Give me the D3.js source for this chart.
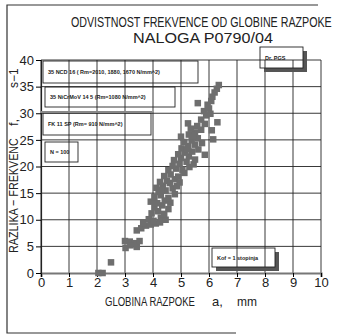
<!DOCTYPE html>
<html>
<head>
<meta charset="utf-8">
<script src="https://cdn.jsdelivr.net/npm/d3@7"></script>
<style>
  body { margin: 0; background: #fff; }
  svg text { font-family: "Liberation Sans", "DejaVu Sans", sans-serif; fill: #222; }
  .box-txt { font-weight: bold; font-size: 5.5px; }
</style>
</head>
<body>
<div id="chart"></div>
<script>
// chart text
var titleLines = ["ODVISTNOST FREKVENCE OD GLOBINE RAZPOKE", "NALOGA P0790/04"];
var xTicks = [0, 1, 2, 3, 4, 5, 6, 7, 8, 9, 10];
var yTicks = [0, 5, 10, 15, 20, 25, 30, 35, 40];
var noteTexts = ["35 NCD 16  ( Rm=2010,  1880,  1670  N/mm^2)",
                 "35 NiCrMoV 14 5   (Rm=1080 N/mm^2)",
                 "FK 11 SP   (Rm= 910 N/mm^2)",
                 "N = 100",
                 "Dr. PGS",
                 "Kof  =  1  stopinja"];

// measured points: crack depth a (mm) and frequency difference (1/s)
var crackDepth = [2.05, 2.2, 2.5, 3.02, 3.0, 3.17, 3.35, 3.42, 3.52, 3.2, 3.42, 3.58, 3.75, 3.92, 4.1, 4.25, 3.65,
  3.85, 4.02, 4.28, 4.45, 3.95, 4.18, 4.4, 4.05, 4.33, 4.55,
  3.92, 4.15, 4.42, 4.62, 4.05, 4.28, 4.55, 4.78, 4.2,
  4.45, 4.7, 4.12, 4.35, 4.6, 4.85, 4.5, 4.25, 4.78,
  4.4, 4.63, 4.9, 5.12, 4.55, 4.82, 5.05, 5.3, 4.7,
  4.95, 5.2, 5.45, 4.75, 5.0, 5.28, 5.5, 4.9, 5.15,
  5.4, 5.62, 5.02, 5.26, 5.5, 5.75, 5.12, 5.38, 5.85,
  5.6, 5.0, 5.28, 5.5, 5.72, 5.35, 5.58, 5.25, 5.85, 6.1, 6.15, 6.3,
  5.72, 5.9, 5.82, 6.0, 5.95, 5.6, 6.08, 6.12, 6.2, 6.28, 6.35, 6.05,
  4.3, 5.2, 4.95, 5.42];
var freqDiff = [0, 0, 2, 4.7, 6.0, 5.9, 5.6, 4.9, 6.0, 5.2, 8.0, 8.4, 8.9, 9.1, 9.3, 9.5, 9.4,
  10.1, 9.8, 10.4, 10.0, 11.2, 11.6, 11.1, 12.3, 12.7, 12.0,
  13.4, 13.1, 13.6, 13.2, 14.3, 14.6, 14.1, 14.8, 15.2,
  15.5, 15.9, 16.0, 16.4, 16.9, 16.3, 17.3, 17.1, 17.6,
  18.2, 18.5, 18.1, 18.8, 19.3, 19.6, 19.4, 19.9, 20.1,
  20.5, 20.9, 20.4, 21.2, 21.6, 21.9, 21.3, 22.3, 22.6,
  22.8, 23.2, 23.4, 23.8, 24.1, 24.4, 24.6, 24.9, 22.2,
  25.3, 25.6, 26.0, 26.4, 26.9, 27.1, 27.6, 28.1, 28.0, 26.8, 25.1, 28.3,
  28.8, 29.6, 30.4, 30.9, 31.6, 31.9, 32.3, 33.1, 33.9, 34.6, 35.3, 29.9,
  15.6, 23.2, 17.0, 25.6];

var svgWidth = 339;
var svgHeight = 334;
var margin = { top: 60, right: 18, bottom: 61, left: 41 };
var chartWidth = svgWidth - margin.left - margin.right;
var chartHeight = svgHeight - margin.top - margin.bottom;

var svg = d3.select("#chart").append("svg")
  .attr("width", svgWidth)
  .attr("height", svgHeight);

// outer frame (left, top, bottom only - the scan cuts off the rest)
svg.append("path")
  .attr("d", "M318,5 H7 V333 H236")
  .attr("fill", "none")
  .attr("stroke", "#333")
  .attr("stroke-width", 1.2);

// condensed text: draw, measure, then squeeze horizontally to the measured width
function narrowText(sel, x, y, size, len, txt, rot) {
  var t = sel.append("text")
    .attr("font-size", size)
    .text(txt);
  var sx = len / t.node().getComputedTextLength();
  t.attr("transform", `translate(${x},${y})` + (rot ? " rotate(-90)" : "") + ` scale(${sx},1)`);
  return t;
}

// title
narrowText(svg, 71, 27, 14, 261, titleLines[0]);
narrowText(svg, 133, 43, 15, 140, titleLines[1]);

var chartGroup = svg.append("g")
  .attr("transform", `translate(${margin.left}, ${margin.top})`);

var xScale = d3.scaleLinear().domain([0, 10]).range([0, chartWidth]);
var yScale = d3.scaleLinear().domain([0, 40]).range([chartHeight, 0]);

// grid
chartGroup.append("g").selectAll("line")
  .data(xTicks)
  .enter()
  .append("line")
  .attr("x1", d => xScale(d)).attr("x2", d => xScale(d))
  .attr("y1", 0).attr("y2", chartHeight)
  .attr("stroke", "#222").attr("stroke-width", 0.9);
chartGroup.append("g").selectAll("line")
  .data(yTicks.slice(1))
  .enter()
  .append("line")
  .attr("x1", 0).attr("x2", chartWidth)
  .attr("y1", d => yScale(d)).attr("y2", d => yScale(d))
  .attr("stroke", "#222").attr("stroke-width", 0.9);

// axes
var xAxis = d3.axisBottom(xScale).tickValues(xTicks).tickSize(4).tickPadding(1);
var yAxis = d3.axisLeft(yScale).tickValues(yTicks).tickSize(5).tickPadding(2);

var xAxisG = chartGroup.append("g")
  .attr("transform", `translate(0, ${chartHeight})`)
  .call(xAxis);
xAxisG.select(".domain").attr("stroke", "#777").attr("stroke-width", 2.2);
xAxisG.selectAll("text")
  .style("font-family", "'Liberation Sans', sans-serif")
  .attr("font-size", 13).attr("fill", "#222");

var yAxisG = chartGroup.append("g").call(yAxis);
yAxisG.select(".domain").attr("stroke", "#222").attr("stroke-width", 1.2);
yAxisG.selectAll("text")
  .style("font-family", "'Liberation Sans', sans-serif")
  .attr("font-size", 13).attr("fill", "#222");

// note boxes
function noteBox(x, y, w, h, txt, shadow) {
  var g = chartGroup.append("g");
  if (shadow) {
    g.append("path")
      .attr("d", `M${x + w},${y + 4} h4 v${h} h${-w} v-4 h${w - 4} z`)
      .attr("fill", "#555");
  }
  g.append("rect")
    .attr("x", x).attr("y", y)
    .attr("width", w).attr("height", h)
    .attr("fill", "none")
    .attr("stroke", "#222").attr("stroke-width", 0.9);
  g.append("text")
    .attr("class", "box-txt")
    .attr("x", x + 5).attr("y", y + h / 2 + 2)
    .text(txt);
}
noteBox(2, 1, 155, 22, noteTexts[0], false);
noteBox(4, 27, 130, 20, noteTexts[1], false);
noteBox(2, 53, 108, 22, noteTexts[2], false);
noteBox(4, 82, 33, 20, noteTexts[3], false);
noteBox(219, -13, 43, 21, noteTexts[4], true);
noteBox(171, 188, 63, 19, noteTexts[5], true);
// thick double top edge of the third box
chartGroup.append("line")
  .attr("x1", 0).attr("x2", 111)
  .attr("y1", 52).attr("y2", 52)
  .attr("stroke", "#888").attr("stroke-width", 2);

// scatter squares
var sq = 6.5;
chartGroup.append("g").selectAll("rect")
  .data(crackDepth.map((d, i) => ({ a: d, f: freqDiff[i] })))
  .enter()
  .append("rect")
  .attr("x", d => xScale(d.a) - sq / 2)
  .attr("y", d => yScale(d.f) - sq / 2)
  .attr("width", sq)
  .attr("height", sq)
  .attr("fill", "#6e6e6e");

// axis titles
narrowText(svg, 105, 306, 13, 90, "GLOBINA RAZPOKE");
svg.append("text")
  .attr("x", 212).attr("y", 306)
  .attr("font-size", 13)
  .text("a,");
narrowText(svg, 237, 306, 13, 20, "mm");

narrowText(svg, 18, 253, 13, 115, "RAZLIKA  −  FREKVENC", true);
svg.append("text")
  .attr("transform", "translate(18, 126) rotate(-90)")
  .attr("font-size", 13)
  .text("f,");
svg.append("text")
  .attr("transform", "translate(18, 88) rotate(-90)")
  .attr("font-size", 12)
  .text("s−1");
</script>
</body>
</html>
